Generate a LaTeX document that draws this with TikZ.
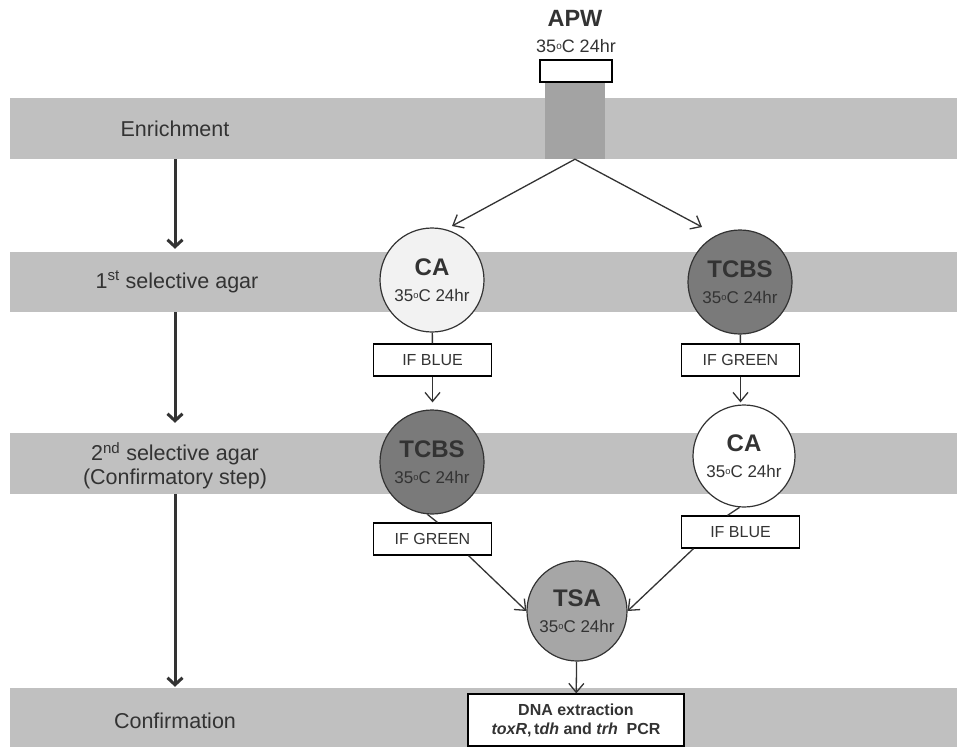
\documentclass[tikz,border=0pt]{standalone}
\usepackage{fontspec}
\setmainfont{Liberation Sans}
\usepackage{tikz}
\usetikzlibrary{arrows.meta}
\definecolor{bandgray}{RGB}{192, 192, 192}
\definecolor{bargray}{RGB}{163, 163, 163}
\definecolor{dark}{RGB}{122, 122, 122}
\definecolor{mid}{RGB}{166, 166, 166}
\definecolor{pale}{RGB}{242, 242, 242}
\definecolor{ink}{RGB}{51, 51, 51}
\newcommand{\dg}{\raisebox{0.35ex}{\scalebox{0.55}{o}}}

\begin{document}
\begin{tikzpicture}[x=1pt, y=-1pt, text=ink,
  stage/.style={fill=bandgray, inner sep=0pt, minimum width=947pt, minimum height=61pt},
  stagetxt/.style={font=\fontsize{21.5}{24}\selectfont, align=center},
  dish/.style={circle, draw=ink, line width=1.2pt, minimum size=104pt, inner sep=0pt, align=center,
    font=\fontsize{24}{27}\selectfont\bfseries},
  tag/.style={draw=black, fill=white, line width=1.2pt, minimum width=118pt, minimum height=32pt,
    font=\fontsize{16}{18}\selectfont},
  flow/.style={draw=ink, line width=1.3pt, -{Straight Barb[length=9pt, width=15pt]}},
  stagearr/.style={draw=ink, line width=3pt, -{Straight Barb[length=7pt, width=15pt]}}]
  \useasboundingbox (0, 0) rectangle (957, 747);

  % stage bands
  \node[stage] (enrich) at (483.5, 128.5) {};
  \node[stage, minimum height=60pt] (sel1) at (483.5, 282) {};
  \node[stage] (sel2) at (483.5, 463.5) {};
  \node[stage, minimum height=59pt] (confirm) at (483.5, 717.5) {};

  \node[stagetxt] (lblA) at (175, 129) {Enrichment};
  \node[stagetxt] (lblB) at (177, 282) {1\textsuperscript{st} selective agar};
  \node[stagetxt] (lblC) at (175, 466) {2\textsuperscript{nd} selective agar\\(Confirmatory step)};
  \node[stagetxt] (lblD) at (175, 721) {Confirmation};

  \draw[stagearr] (lblA |- enrich.south) -- ([yshift=3pt]lblA |- sel1.north);
  \draw[stagearr] (lblA |- sel1.south) -- ([yshift=10pt]lblA |- sel2.north);
  \draw[stagearr] (lblA |- sel2.south) -- ([yshift=1pt]lblA |- confirm.north);

  % APW
  \node[font=\fontsize{23.5}{26}\selectfont\bfseries] (apw) at (575, 18) {APW};
  \node[font=\fontsize{18}{20}\selectfont] (apwtemp) at (576, 46) {35\dg C 24hr};
  \node[fill=bargray, inner sep=0pt, minimum width=60pt, minimum height=77pt] (apwbar) at (575, 120.5) {};
  \node[draw=black, fill=white, line width=1.2pt, inner sep=0pt, minimum width=72pt, minimum height=22pt] (apwbox) at (576, 71) {};

  \coordinate (endL) at (452, 226);
  \coordinate (endR) at (702, 227);
  \draw[flow] (apwbar.south) -- (endL);
  \draw[flow] (apwbar.south) -- (endR);

  % left branch
  \node[dish, fill=pale] (caA) at (432, 280) {CA\\[-1pt]{\fontsize{17}{20}\selectfont\mdseries 35\dg C 24hr}};
  \node[tag] (blueA) at (432.5, 360) {IF BLUE};
  \node[dish, fill=dark] (tcbsB) at (432, 462) {TCBS\\[-1pt]{\fontsize{17}{20}\selectfont\mdseries 35\dg C 24hr}};
  \node[tag] (greenB) at (432.5, 539) {IF GREEN};

  % right branch
  \node[dish, fill=dark] (tcbsA) at (740, 282) {TCBS\\[-1pt]{\fontsize{17}{20}\selectfont\mdseries 35\dg C 24hr}};
  \node[tag] (greenA) at (740.5, 360) {IF GREEN};
  \node[dish, fill=white, minimum size=102pt] (caB) at (744, 456) {CA\\[-1pt]{\fontsize{17}{20}\selectfont\mdseries 35\dg C 24hr}};
  \node[tag] (blueB) at (740.5, 532) {IF BLUE};

  \node[dish, fill=mid, minimum size=100pt] (tsa) at (577, 611) {TSA\\[-1pt]{\fontsize{17}{20}\selectfont\mdseries 35\dg C 24hr}};
  \node[draw=black, fill=white, line width=1.2pt, minimum width=216pt, minimum height=52pt, align=center,
    font=\fontsize{16}{19}\selectfont\bfseries] (dna) at (576, 720)
    {DNA extraction\\\textit{toxR},\,t\textit{dh} and \textit{trh}\ \ PCR};

  \draw[draw=ink, line width=1.3pt] (caA) -- (blueA);
  \draw[flow] (blueA.south) -- ([yshift=7pt]blueA.south |- tcbsB.north);
  \draw[draw=ink, line width=1.3pt] (tcbsB.265) -- ([xshift=5pt]greenB.north);
  \draw[draw=ink, line width=1.3pt] (tcbsA) -- (greenA);
  \draw[flow] (greenA.south) -- ([yshift=2pt]greenA.south |- caB.north);
  \draw[draw=ink, line width=1.3pt] (caB.265) -- ([xshift=-13pt]blueB.north);
  \draw[flow] ([xshift=36pt]greenB.south) -- (tsa.west);
  \draw[flow] ([xshift=-47pt]blueB.south) -- (tsa.east);
  \draw[flow] (tsa) -- (dna);
\end{tikzpicture}
\end{document}
